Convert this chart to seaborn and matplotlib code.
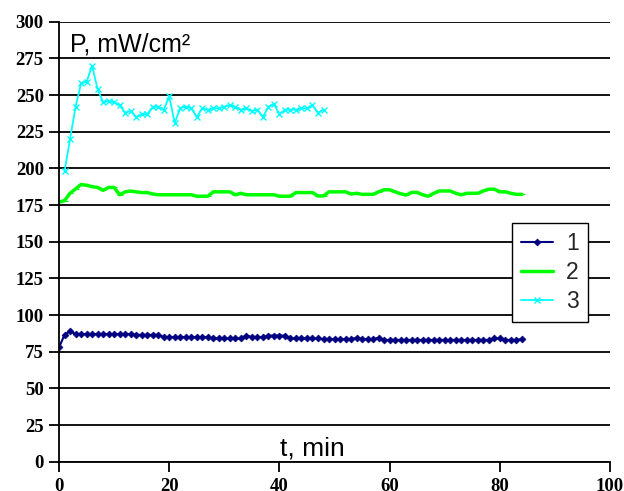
""" Power density vs time, three samples """

import numpy as np
import pandas as pd
import matplotlib
matplotlib.use("Agg")
import matplotlib.pyplot as plt
import seaborn as sns

# data
t1 = list(range(0, 85))
p1 = [78, 86.5, 89, 87, 87, 87, 87, 87, 87, 87,
      87, 87, 87, 87, 86.5, 86.5, 86.5, 86.5, 86.5, 85,
      85, 85, 85, 85, 85, 85, 85, 85, 84, 84,
      84, 84, 84, 84, 86, 85, 85, 85, 86, 86,
      86, 86, 84, 84, 84, 84, 84, 84, 83.5, 83.5,
      83.5, 83.5, 83.5, 83.5, 84.5, 83.5, 83.5, 83.5, 84.5, 83,
      83, 83, 83, 83, 83, 83, 83, 83, 83, 83,
      83, 83, 83, 83, 83, 83, 83, 83, 83, 84,
      84, 83, 83, 83, 83.5]

t2 = list(range(0, 85))
p2 = [177, 178, 183, 186, 189, 188.5, 187.5, 187, 185, 187,
      187, 182, 184, 184.5, 184, 183.5, 183.5, 182.5, 182, 182,
      182, 182, 182, 182, 182, 181, 181, 181, 184, 184,
      184, 184, 182, 183, 182, 182, 182, 182, 182, 182,
      181, 181, 181, 183.5, 183.5, 183.5, 183.5, 181.2, 181.2, 184,
      184, 184, 184, 182.5, 183, 182.3, 182.3, 182.3, 184, 185.4,
      185.4, 184, 182.7, 181.8, 183.6, 183.6, 182, 181, 183, 184.6,
      184.6, 184.6, 183, 182, 183, 183, 183, 184.6, 185.8, 185.8,
      184, 184, 183, 182.3, 182.3]

t3 = list(range(1, 49))
p3 = [198, 220, 242, 258, 259, 270, 254, 245, 246, 245,
      243, 238, 239, 235, 237, 237, 242, 242, 240, 249,
      231, 241, 242, 241, 235, 241, 240, 241, 241, 242,
      243, 242, 240, 241, 239, 240, 235, 242, 244, 237,
      240, 240, 240, 241, 241, 243, 238, 240]

df1 = pd.DataFrame({"t": t1, "P": p1})
df2 = pd.DataFrame({"t": t2, "P": p2})
df3 = pd.DataFrame({"t": t3, "P": p3})

sns.set_style("white")
plt.rcParams["font.family"] = ["Liberation Sans", "DejaVu Sans"]

fig = plt.figure(figsize=(6.24, 4.91), dpi=100)
ax = fig.add_axes([0.0946, 0.0597, 0.883, 0.8961])

c1, c2, c3 = "#000080", "#00ff00", "#00ffff"
sns.lineplot(data=df1, x="t", y="P", ax=ax, color=c1, lw=1.5,
             marker="D", markersize=3.5, markeredgewidth=0.5,
             markeredgecolor=c1, label="1")
sns.lineplot(data=df2, x="t", y="P", ax=ax, color=c2, lw=2.5,
             marker="_", markersize=4, markeredgecolor=c2, label="2")
sns.lineplot(data=df3, x="t", y="P", ax=ax, color=c3, lw=1.3,
             marker="x", markersize=4, markeredgewidth=1,
             markeredgecolor=c3, label="3")

ax.set_xlim(0, 100)
ax.set_ylim(0, 300)
ax.set_xticks(np.arange(0, 101, 20))
ax.set_yticks(np.arange(0, 301, 25))
ax.set_xlabel("")
ax.set_ylabel("")

ax.yaxis.grid(True, color="black", lw=1.3)
ax.xaxis.grid(False)
ax.set_axisbelow(True)
for s in ["top", "right"]:
    ax.spines[s].set_visible(False)
for s in ["left", "bottom"]:
    ax.spines[s].set_color("black")
    ax.spines[s].set_linewidth(1.3)

ax.tick_params(axis="y", direction="out", length=7, width=1.3, pad=4,
               left=True, colors="black")
ax.tick_params(axis="x", direction="out", length=7, width=1.3, pad=5,
               bottom=True, colors="black")
for lab in ax.get_xticklabels() + ax.get_yticklabels():
    lab.set_fontfamily("Liberation Serif")
    lab.set_fontweight("bold")
    lab.set_fontsize(13.5)

ax.text(2, 280, "P, mW/cm²", fontsize=18, color="black", va="baseline")
ax.text(46, 4, "t, min", fontsize=19, color="black", ha="center", va="baseline")

leg = ax.legend(loc="upper left", bbox_to_anchor=(0.822, 0.542), fontsize=16.5,
                frameon=True, fancybox=False, handlelength=1.4,
                labelspacing=0.25, borderpad=0.4, handletextpad=0.55,
                borderaxespad=0)
leg.get_frame().set_edgecolor("black")
leg.get_frame().set_linewidth(1)
leg.get_frame().set_facecolor("white")
leg.get_frame().set_alpha(1)

plt.savefig("out.png", dpi=100)
